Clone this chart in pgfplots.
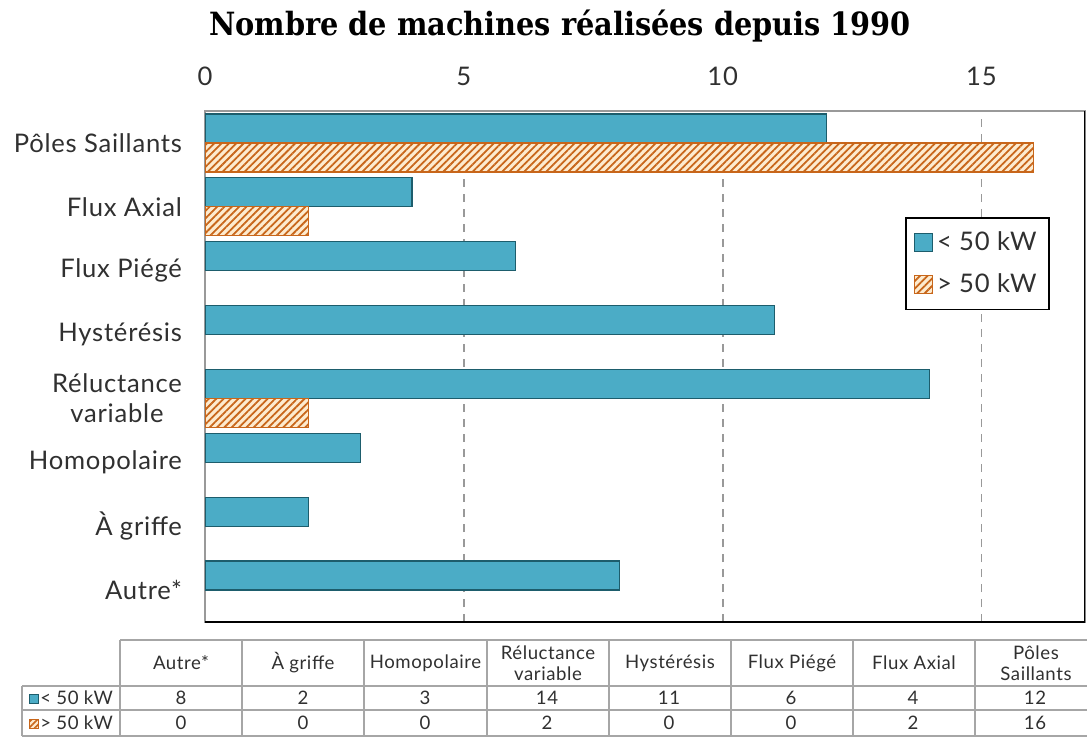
\documentclass[border=0pt]{standalone}
\usepackage{pgfplots}
\pgfplotsset{compat=1.18}
\usetikzlibrary{patterns.meta}
\usepackage{fontspec}
\setmainfont{Lato}
\newfontfamily\lab{Lato}[LetterSpace=3]
\newfontfamily\titlefont{DejaVu Serif Condensed}
\definecolor{barblue}{HTML}{4BACC6}
\definecolor{barblueedge}{HTML}{1D5D6C}
\definecolor{hatchor}{HTML}{C8661A}
\definecolor{hatchbg}{HTML}{FDEBCF}
\definecolor{txt}{HTML}{303030}
\definecolor{gridc}{HTML}{999999}
\definecolor{tabline}{HTML}{A6A6A6}
\begin{document}
\begin{tikzpicture}[x=0.5pt,y=0.5pt]
\useasboundingbox (0,0) rectangle (1087,740);
% title
\node[font=\titlefont\bfseries\fontsize{16}{18}\selectfont, text=black] at (560,714) {Nombre de machines réalisées depuis 1990};
\begin{axis}[
  at={(102.5pt,59pt)}, anchor=south west,
  scale only axis, width=440pt, height=255.5pt,
  xbar, bar width=14.5pt,
  xmin=0, xmax=17, ymin=-0.5, ymax=7.5,
  xtick={0,5,10,15}, xticklabel pos=upper,
  ytick={0,...,7},
  yticklabels={Autre*, À griffe, Homopolaire, {Réluctance\\variable}, Hystérésis, Flux Piégé, Flux Axial, Pôles Saillants},
  major tick length=0pt,
  /pgf/number format/assume math mode=true,
  yticklabel style={align=center, font=\lab\fontsize{12.8}{15}\selectfont, text=txt, xshift=-8pt},
  xticklabel style={font=\lab\fontsize{12.8}{14}\selectfont, text=txt, yshift=9pt},
  xmajorgrids, ymajorgrids=false,
  major grid style={draw=gridc, line width=0.9pt, dash pattern=on 4pt off 3.5pt},
  axis line style={draw=gray!80, line width=0.8pt},
  legend style={at={(0.7955,0.7926)}, anchor=north west, draw=black, line width=0.8pt,
    font=\lab\fontsize{12.8}{14}\selectfont, text=txt, row sep=6pt, inner xsep=4pt, inner ysep=5pt,
    legend cell align=left},
  sqlegend/.style={legend image code/.code={\draw[##1] (0pt,-4.5pt) rectangle (9pt,4.5pt);}},
]
\addplot[fill=barblue, draw=barblueedge, line width=0.6pt, bar shift=7.25pt, sqlegend]
  coordinates {(8,0) (2,1) (3,2) (14,3) (11,4) (6,5) (4,6) (12,7)};
\addplot[pattern={Lines[angle=45,distance=2.6pt,line width=0.9pt]}, pattern color=hatchor,
  preaction={fill=hatchbg}, draw=hatchor, line width=0.6pt, bar shift=-7.25pt, sqlegend]
  coordinates {(2,3) (2,6) (16,7)};
\legend{< 50 kW, > 50 kW}
\draw[black!18, line width=2pt] (rel axis cs:1,1) ++(2pt,-2pt) -- ([xshift=2pt,yshift=-2pt]rel axis cs:1,0) -- ([xshift=2pt,yshift=-2pt]rel axis cs:0,0);
\draw[black, line width=1.1pt] (rel axis cs:1,1) -- (rel axis cs:1,0) -- (rel axis cs:0,0);
\end{axis}
% data table
\begin{scope}[tabline/.style={draw=tabline, line width=0.75pt}]
  \foreach \yy in {54,30,4} { \draw[tabline] (22,\yy) -- (1097,\yy); }
  \draw[tabline] (120,100) -- (1097,100);
  \draw[tabline] (22,54) -- (22,4);
  \foreach \xx in {120,242,364,487,609,731,853,975} { \draw[tabline] (\xx,100) -- (\xx,4); }
  \begin{scope}[every node/.style={font=\lab\fontsize{9.3}{10.5}\selectfont, text=txt, align=center}]
    \node at (181,77) {Autre*};
    \node at (303,77) {À griffe};
    \node at (425.5,77) {Homopolaire};
    \node at (548,77) {Réluctance\\variable};
    \node at (670,77) {Hystérésis};
    \node at (792,77) {Flux Piégé};
    \node at (914,77) {Flux Axial};
    \node at (1036,77) {Pôles\\Saillants};
    \foreach \v [count=\i from 0] in {8,2,3,14,11,6,4,12} {
      \node at (181+122*\i,42) {\v};
    }
    \foreach \v [count=\i from 0] in {0,0,0,2,0,0,2,16} {
      \node at (181+122*\i,17) {\v};
    }
    \draw[fill=barblue, draw=barblueedge, line width=0.5pt] (29,37) rectangle (38,46);
    \node[anchor=west, inner sep=0pt] at (40,42) {< 50 kW};
    \draw[pattern={Lines[angle=45,distance=2pt,line width=0.8pt]}, pattern color=hatchor, preaction={fill=hatchbg}, draw=hatchor, line width=0.5pt] (29,12) rectangle (38,21);
    \node[anchor=west, inner sep=0pt] at (40,17) {> 50 kW};
  \end{scope}
\end{scope}
\end{tikzpicture}
\end{document}
